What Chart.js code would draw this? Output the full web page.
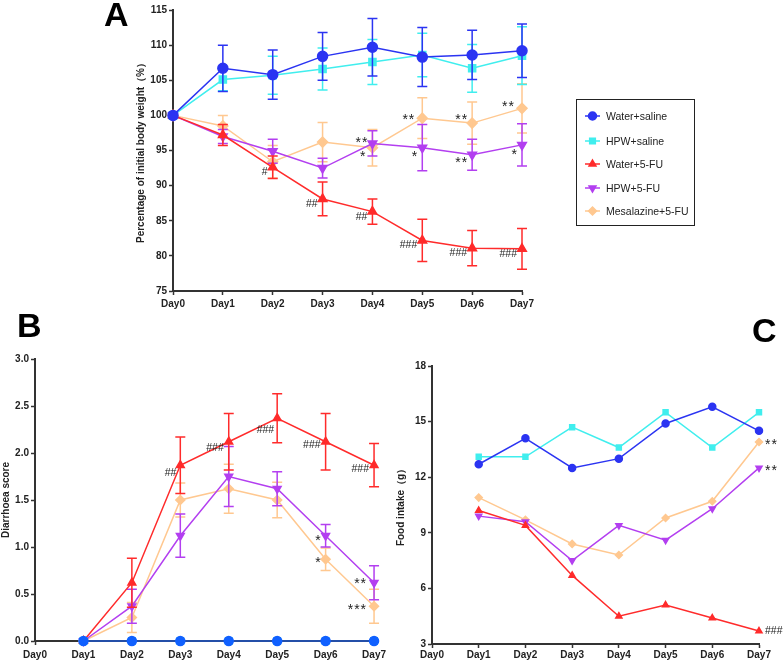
<!DOCTYPE html>
<html>
<head>
<meta charset="utf-8">
<script src="https://cdn.jsdelivr.net/npm/chart.js@4.4.1/dist/chart.umd.min.js"></script>
<style>
  body { margin: 0; background: #fff; width: 783px; height: 661px; position: relative; overflow: hidden; font-family: Arial, 'Liberation Sans', sans-serif; }
  .panel { position: absolute; }
  .letter { position: absolute; font: bold 34px/34px Arial, 'Liberation Sans', sans-serif; color: #000; z-index: 2; }
  #legend { position: absolute; left: 576px; top: 99px; width: 117px; height: 125px; border: 1.5px solid #222; }
  .row { position: absolute; left: 8px; height: 16px; font-size: 10.5px; color: #222; display: flex; align-items: center; white-space: nowrap; }
  .row canvas { margin-right: 6px; }
</style>
</head>
<body>
<div class="letter" style="left:104px; top:-3px;">A</div>
<div class="letter" style="left:17px; top:308px;">B</div>
<div class="letter" style="left:752px; top:313px;">C</div>

<canvas id="chartA" class="panel" width="540" height="318" style="left:0; top:0;"></canvas>
<canvas id="chartB" class="panel" width="390" height="341" style="left:0; top:320px;"></canvas>
<canvas id="chartC" class="panel" width="393" height="341" style="left:390px; top:320px;"></canvas>
<div id="legend"></div>

<script>
// ---- data ----
const days = ['Day0', 'Day1', 'Day2', 'Day3', 'Day4', 'Day5', 'Day6', 'Day7'];
const groups = ['Water+saline', 'HPW+saline', 'Water+5-FU', 'HPW+5-FU', 'Mesalazine+5-FU'];

// A: percentage of initial body weight (mean, sd)
const bwWaterSaline   = [100, 106.7, 105.8, 108.4, 109.7, 108.3, 108.6, 109.2];
const bwWaterSalineSd = [0, 3.3, 3.5, 3.4, 4.1, 4.2, 3.5, 3.8];
const bwHpwSaline     = [100, 105.1, 105.7, 106.6, 107.6, 108.6, 106.7, 108.5];
const bwHpwSalineSd   = [0, 1.6, 2.7, 3.0, 3.2, 3.1, 3.4, 4.1];
const bwWater5fu      = [100, 97.2, 92.6, 88.1, 86.3, 82.2, 81.1, 81.0];
const bwWater5fuSd    = [0, 1.5, 1.6, 2.4, 1.8, 3.0, 2.5, 2.9];
const bwHpw5fu        = [100, 97.0, 94.9, 92.5, 96.0, 95.4, 94.4, 95.8];
const bwHpw5fuSd      = [0, 1.0, 1.7, 1.4, 1.8, 3.3, 2.2, 3.0];
const bwMesa5fu       = [100, 98.5, 93.4, 96.2, 95.4, 99.6, 98.9, 101.0];
const bwMesa5fuSd     = [0, 1.5, 2.3, 2.8, 2.6, 2.9, 3.0, 3.5];
const bwSigWater5fu   = ['', '', '#', '##', '##', '###', '###', '###'];
const bwSigHpw5fu     = ['', '', '', '', '**', '*', '**', '*'];
const bwSigMesa5fu    = ['', '', '', '', '*', '**', '**', '**'];

// B: diarrhoea score (mean, sd)
const dsWaterSaline   = [null, 0, 0, 0, 0, 0, 0, 0];
const dsHpwSaline     = [null, 0, 0, 0, 0, 0, 0, 0];
const dsWater5fu      = [null, 0, 0.62, 1.87, 2.12, 2.37, 2.12, 1.87];
const dsWater5fuSd    = [0, 0, 0.26, 0.30, 0.30, 0.26, 0.30, 0.23];
const dsHpw5fu        = [null, 0, 0.37, 1.12, 1.75, 1.62, 1.12, 0.62];
const dsHpw5fuSd      = [0, 0, 0.18, 0.23, 0.32, 0.18, 0.12, 0.18];
const dsMesa5fu       = [null, 0, 0.25, 1.50, 1.62, 1.50, 0.87, 0.37];
const dsMesa5fuSd     = [0, 0, 0.16, 0.18, 0.26, 0.19, 0.12, 0.18];
const dsSigWater5fu   = ['', '', '', '##', '###', '###', '###', '###'];
const dsSigHpw5fu     = ['', '', '', '', '', '', '*', '**'];
const dsSigMesa5fu    = ['', '', '', '', '', '', '*', '***'];

// C: food intake (g)
const fiWaterSaline   = [null, 12.7, 14.1, 12.5, 13.0, 14.9, 15.8, 14.5];
const fiHpwSaline     = [null, 13.1, 13.1, 14.7, 13.6, 15.5, 13.6, 15.5];
const fiWater5fu      = [null, 10.2, 9.4, 6.7, 4.5, 5.1, 4.4, 3.7];
const fiHpw5fu        = [null, 9.9, 9.6, 7.5, 9.4, 8.6, 10.3, 12.5];
const fiMesa5fu       = [null, 10.9, 9.7, 8.4, 7.8, 9.8, 10.7, 13.9];
const fiSigWater5fu   = ['', '', '', '', '', '', '', '###'];
const fiSigHpw5fu     = ['', '', '', '', '', '', '', '**'];
const fiSigMesa5fu    = ['', '', '', '', '', '', '', '**'];

// ---- styles ----
const colors = ['#2b34f2', '#40eeee', '#ff2b2b', '#b33ff0', '#ffc890'];
const styles = ['circle', 'rect', 'triangle', 'triangle', 'rectRot'];
const rotations = [0, 0, 0, 180, 0];
const axisColor = '#333';

// error bars drawn per dataset so they layer with their own line
const errorBars = {
    id: 'errorBars',
    afterDatasetDraw(chart, args) {
        const ds = chart.data.datasets[args.index];
        if (!ds.sd) return;
        const ctx = chart.ctx, y = chart.scales.y;
        ctx.save();
        ctx.strokeStyle = ds.borderColor;
        ctx.lineWidth = 1.5;
        args.meta.data.forEach(function(pt, i) {
            const v = ds.data[i], e = ds.sd[i];
            if (v == null || !e) return;
            const top = y.getPixelForValue(v + e), bot = y.getPixelForValue(v - e);
            ctx.beginPath();
            ctx.moveTo(pt.x, top); ctx.lineTo(pt.x, bot);
            ctx.moveTo(pt.x - 5, top); ctx.lineTo(pt.x + 5, top);
            ctx.moveTo(pt.x - 5, bot); ctx.lineTo(pt.x + 5, bot);
            ctx.stroke();
        });
        ctx.restore();
    }
};

// significance marks next to points
const sigMarks = {
    id: 'sigMarks',
    afterDatasetsDraw(chart, args, opts) {
        const ctx = chart.ctx;
        chart.data.datasets.forEach(function(ds, di) {
            if (!ds.sig) return;
            const meta = chart.getDatasetMeta(di);
            ds.sig.forEach(function(txt, i) {
                if (!txt) return;
                const pt = meta.data[i];
                const off = (opts.place[di] && opts.place[di][i]) || opts.def;
                const star = txt[0] === '*';
                ctx.save();
                ctx.fillStyle = '#222';
                ctx.font = star ? '14px Arial' : '10.5px Arial';
                ctx.letterSpacing = star ? '1px' : '0px';
                ctx.textAlign = off[0] < 0 ? 'right' : 'left';
                ctx.textBaseline = 'middle';
                ctx.fillText(txt, pt.x + off[0], pt.y + off[1] + (star ? 3 : 0));
                ctx.restore();
            });
        });
    }
};

function makeDatasets(series, sds, sigs, radius) {
    return series.map(function(data, i) {
        return {
            label: groups[i],
            data: data,
            sd: sds ? sds[i] : null,
            sig: sigs ? sigs[i] : null,
            borderColor: colors[i],
            backgroundColor: colors[i],
            pointBackgroundColor: colors[i],
            pointBorderColor: colors[i],
            pointStyle: styles[i],
            pointRotation: rotations[i],
            pointRadius: radius,
            borderWidth: 1.5,
            tension: 0,
            clip: false
        };
    });
}

function axes(o) {
    const tickFont = { family: 'Arial', size: 10, weight: 'bold' };
    return {
        x: {
            offset: false,
            grid: { drawOnChartArea: false, tickLength: 4, tickColor: axisColor, tickWidth: 1.5 },
            border: { color: axisColor, width: 2 },
            ticks: { color: '#222', font: tickFont, autoSkip: false, maxRotation: 0, padding: o.xPad },
            afterFit: function(s) { s.height = o.xHeight; }
        },
        y: {
            min: o.min, max: o.max,
            grid: { drawOnChartArea: false, tickLength: 4, tickColor: axisColor, tickWidth: 1.5 },
            border: { color: axisColor, width: 2 },
            ticks: { stepSize: o.step, color: '#222', font: tickFont, padding: 2,
                     callback: o.fmt || function(v) { return v; } },
            title: { display: true, text: o.title, color: '#222',
                     font: { family: 'Arial', size: 10, weight: 'bold' }, padding: { top: o.titlePad, bottom: 0 } },
            afterFit: function(s) { s.width = o.yWidth; }
        }
    };
}

function baseOptions(padding, scales, place, def) {
    return {
        responsive: false,
        animation: false,
        events: [],
        layout: { padding: padding },
        plugins: {
            legend: { display: false },
            tooltip: { enabled: false },
            sigMarks: { place: place, def: def }
        },
        scales: scales
    };
}

// Panel A - body weight
new Chart(document.getElementById('chartA'), {
    type: 'line',
    data: {
        labels: days,
        datasets: makeDatasets(
            [bwWaterSaline, bwHpwSaline, bwWater5fu, bwHpw5fu, bwMesa5fu],
            [bwWaterSalineSd, bwHpwSalineSd, bwWater5fuSd, bwHpw5fuSd, bwMesa5fuSd],
            [null, null, bwSigWater5fu, bwSigHpw5fu, bwSigMesa5fu], 5)
    },
    options: baseOptions({ left: 130, top: 10, right: 18, bottom: 0 },
        axes({ min: 75, max: 115, step: 5, title: 'Percentage of initial body weight（%）',
               yWidth: 43, xHeight: 27, xPad: 3, titlePad: 5 }),
        {
            3: [null, null, null, null, [-4, -3], [-4, 6], [-4, 5], [-4, 7]],
            4: [null, null, null, null, [-6, 6], [-7, -1], [-4, -6], [-7, -4]]
        }, [-5, 5]),
    plugins: [errorBars, sigMarks]
});

// Panel B - diarrhoea score
new Chart(document.getElementById('chartB'), {
    type: 'line',
    data: {
        labels: days,
        datasets: makeDatasets(
            [dsWaterSaline, dsHpwSaline, dsWater5fu, dsHpw5fu, dsMesa5fu],
            [null, null, dsWater5fuSd, dsHpw5fuSd, dsMesa5fuSd],
            [null, null, dsSigWater5fu, dsSigHpw5fu, dsSigMesa5fu], 4.5)
    },
    options: baseOptions({ left: 0, top: 39, right: 14, bottom: 0 },
        axes({ min: 0, max: 3, step: 0.5, title: 'Diarrhoea score', yWidth: 35, xHeight: 20, xPad: 4, titlePad: 0,
               fmt: function(v) { return v.toFixed(1); } }),
        {
            2: [null, null, null, [-4, 8], [-5, 6], [-3, 12], [-5, 3], [-5, 4]],
            3: [null, null, null, null, null, null, [-4, 2], [-7, -2]],
            4: [null, null, null, null, null, null, [-4, 1], [-7, 1]]
        }, [-5, 0]),
    plugins: [errorBars, sigMarks]
});
// water+saline line sits darker on the axis in panel B
(function() {
    const c = Chart.getChart('chartB');
    c.data.datasets[0].borderColor = '#1c2aa0';
    c.data.datasets[0].pointBackgroundColor = '#1060ff';
    c.data.datasets[0].pointBorderColor = '#1060ff';
    c.update();
})();

// Panel C - food intake
new Chart(document.getElementById('chartC'), {
    type: 'line',
    data: {
        labels: days,
        datasets: makeDatasets(
            [fiWaterSaline, fiHpwSaline, fiWater5fu, fiHpw5fu, fiMesa5fu],
            null,
            [null, null, fiSigWater5fu, fiSigHpw5fu, fiSigMesa5fu], 3.5)
    },
    options: baseOptions({ left: 0, top: 46, right: 24, bottom: 0 },
        axes({ min: 3, max: 18, step: 3, title: 'Food intake（g）', yWidth: 42, xHeight: 17, xPad: 1, titlePad: 5 }),
        {}, [6, 0]),
    plugins: [sigMarks]
});

// legend box
const legend = document.getElementById('legend');
const rowCenters = [15.5, 40.5, 63.5, 87.5, 110.5];
groups.forEach(function(name, i) {
    const row = document.createElement('div');
    row.className = 'row';
    row.style.top = (rowCenters[i] - 8) + 'px';
    const icon = document.createElement('canvas');
    icon.width = 15; icon.height = 12;
    const ctx = icon.getContext('2d');
    ctx.strokeStyle = colors[i];
    ctx.fillStyle = colors[i];
    ctx.lineWidth = 1.5;
    ctx.beginPath(); ctx.moveTo(0, 6); ctx.lineTo(15, 6); ctx.stroke();
    Chart.helpers.drawPoint(ctx, { pointStyle: styles[i], rotation: rotations[i], radius: 4, borderWidth: 1 }, 7.5, 6);
    row.appendChild(icon);
    const label = document.createElement('span');
    label.textContent = name;
    row.appendChild(label);
    legend.appendChild(row);
});
</script>
</body>
</html>
